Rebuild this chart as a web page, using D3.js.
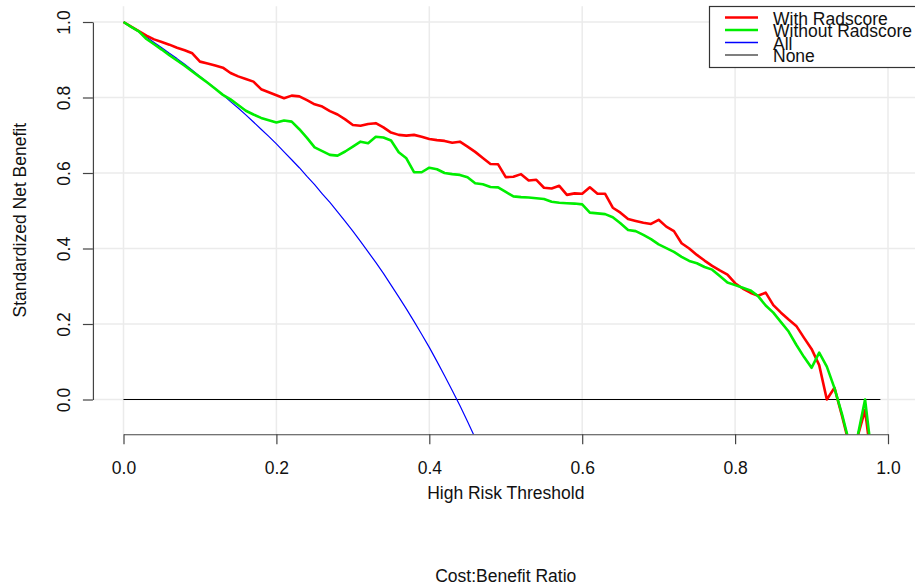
<!DOCTYPE html>
<html>
<head>
<meta charset="utf-8">
<script src="https://cdn.jsdelivr.net/npm/d3@7"></script>
<style>
  html, body { margin: 0; padding: 0; background: #fff; }
  svg { display: block; font-family: "Liberation Sans", Arial, Helvetica, sans-serif; }
</style>
</head>
<body>
<svg id="chart" width="915" height="585"></svg>
<script>
// Decision curve: standardized net benefit by high-risk threshold
const thresholds = [
  0.00,0.01,0.02,0.03,0.04,0.05,0.06,0.07,0.08,0.09,
  0.10,0.11,0.12,0.13,0.14,0.15,0.16,0.17,0.18,0.19,
  0.20,0.21,0.22,0.23,0.24,0.25,0.26,0.27,0.28,0.29,
  0.30,0.31,0.32,0.33,0.34,0.35,0.36,0.37,0.38,0.39,
  0.40,0.41,0.42,0.43,0.44,0.45,0.46,0.47,0.48,0.49,
  0.50,0.51,0.52,0.53,0.54,0.55,0.56,0.57,0.58,0.59,
  0.60,0.61,0.62,0.63,0.64,0.65,0.66,0.67,0.68,0.69,
  0.70,0.71,0.72,0.73,0.74,0.75,0.76,0.77,0.78,0.79,
  0.80,0.81,0.82,0.83,0.84,0.85,0.86,0.87,0.88,0.89,
  0.90,0.91,0.92,0.93,0.94,0.95,0.96,0.97,0.98
];

const withRadscore = [
  1.000,0.988,0.976,0.964,0.954,0.947,0.940,0.932,0.925,0.917,
  0.895,0.890,0.885,0.879,0.865,0.856,0.849,0.842,0.822,0.814,
  0.806,0.798,0.805,0.803,0.793,0.782,0.776,0.764,0.755,0.742,
  0.727,0.725,0.730,0.732,0.721,0.707,0.701,0.699,0.701,0.696,
  0.690,0.687,0.685,0.680,0.683,0.670,0.656,0.640,0.624,0.623,
  0.589,0.590,0.597,0.580,0.582,0.561,0.559,0.566,0.542,0.546,
  0.545,0.562,0.545,0.545,0.508,0.495,0.478,0.473,0.468,0.465,
  0.476,0.458,0.446,0.414,0.400,0.383,0.368,0.354,0.342,0.331,
  0.308,0.294,0.283,0.275,0.283,0.250,0.230,0.212,0.195,0.164,
  0.134,0.091,0.000,0.031,-0.045,-0.125,-0.100,-0.028,-0.190
];

const withoutRadscore = [
  1.000,0.987,0.975,0.955,0.941,0.927,0.912,0.898,0.884,0.869,
  0.854,0.839,0.823,0.807,0.795,0.780,0.765,0.755,0.746,0.740,
  0.734,0.739,0.736,0.716,0.693,0.668,0.658,0.648,0.646,0.657,
  0.670,0.683,0.679,0.696,0.694,0.686,0.655,0.639,0.602,0.602,
  0.614,0.610,0.600,0.597,0.595,0.589,0.573,0.570,0.563,0.562,
  0.550,0.538,0.536,0.535,0.533,0.531,0.524,0.521,0.520,0.519,
  0.517,0.495,0.493,0.491,0.483,0.467,0.449,0.446,0.436,0.425,
  0.411,0.401,0.391,0.378,0.367,0.361,0.351,0.344,0.327,0.310,
  0.303,0.296,0.289,0.274,0.249,0.230,0.205,0.180,0.145,0.113,
  0.084,0.124,0.087,0.030,-0.040,-0.120,-0.100,0.000,-0.170
];

// Treat-all strategy (first 48 thresholds)
const treatAll = [
  1.000,0.987,0.974,0.960,0.946,0.932,0.917,0.903,0.888,0.872,
  0.856,0.840,0.824,0.807,0.789,0.772,0.754,0.735,0.716,0.697,
  0.677,0.656,0.635,0.614,0.591,0.569,0.545,0.522,0.497,0.472,
  0.446,0.419,0.391,0.363,0.334,0.303,0.272,0.240,0.207,0.173,
  0.138,0.101,0.063,0.024,-0.016,-0.058,-0.102,-0.147
];

// Treat-none strategy
const noneThresholds = [0, 0.99];
const treatNone = [0, 0];

const xTicks = [0, 0.2, 0.4, 0.6, 0.8, 1.0];
const yTicks = [0, 0.2, 0.4, 0.6, 0.8, 1.0];

const series = [
  { name: "With Radscore",    color: "#ff0000", width: 2.6, x: thresholds, y: withRadscore },
  { name: "Without Radscore", color: "#00ee00", width: 2.6, x: thresholds, y: withoutRadscore },
  { name: "All",              color: "#0000ff", width: 1.2, x: thresholds.slice(0, treatAll.length), y: treatAll },
  { name: "None",             color: "#000000", width: 1.2, x: noneThresholds, y: treatNone }
];

const svg = d3.select("#chart");

const x = d3.scaleLinear().domain([0, 1]).range([123.5, 888]);
const y = d3.scaleLinear().domain([0, 1]).range([399.5, 22]);

// plot region (axis limits padded by 4%)
const plotLeft = x(-0.04), plotRight = x(1.04);
const plotTop = y(1.042), plotBottom = y(-0.092);

svg.append("rect").attr("width", 915).attr("height", 585).attr("fill", "#fff");

svg.append("defs").append("clipPath").attr("id", "plotClip")
  .append("rect")
  .attr("x", plotLeft).attr("y", plotTop)
  .attr("width", plotRight - plotLeft).attr("height", plotBottom - plotTop);

// grid
const grid = svg.append("g").attr("stroke", "#ebebeb").attr("stroke-width", 1.5);
grid.selectAll("line.v").data(xTicks).join("line")
  .attr("class", "v")
  .attr("x1", d => x(d)).attr("x2", d => x(d))
  .attr("y1", plotTop).attr("y2", plotBottom);
grid.selectAll("line.h").data(yTicks).join("line")
  .attr("class", "h")
  .attr("x1", plotLeft).attr("x2", plotRight)
  .attr("y1", d => y(d)).attr("y2", d => y(d));

// curves
const line = d3.line().x(d => x(d[0])).y(d => y(d[1]));
const drawOrder = [3, 2, 0, 1];
const curves = svg.append("g").attr("clip-path", "url(#plotClip)");
drawOrder.forEach(i => {
  const s = series[i];
  curves.append("path")
    .datum(s.x.map((t, k) => [t, s.y[k]]))
    .attr("fill", "none")
    .attr("stroke", s.color)
    .attr("stroke-width", s.width)
    .attr("stroke-linejoin", "round")
    .attr("d", line);
});

// axes
const fmt = d3.format(".1f");
const xAxis = svg.append("g")
  .attr("transform", `translate(0,${plotBottom})`)
  .call(d3.axisBottom(x).tickValues(xTicks).tickFormat(fmt).tickSizeInner(10).tickSizeOuter(0).tickPadding(4));
xAxis.select(".domain").attr("stroke", "#444").attr("stroke-width", 1.2);
xAxis.selectAll(".tick line").attr("stroke", "#444").attr("stroke-width", 1.2);
xAxis.selectAll(".tick text")
  .attr("y", null).attr("dy", null)
  .attr("transform", `translate(0,${474 - plotBottom})`)
  .attr("fill", "#111").attr("font-size", "17.5px");

const yAxis = svg.append("g")
  .attr("transform", `translate(${plotLeft},0)`)
  .call(d3.axisLeft(y).tickValues(yTicks).tickFormat(fmt).tickSizeInner(10).tickSizeOuter(0));
yAxis.select(".domain").attr("stroke", "#444").attr("stroke-width", 1.2);
yAxis.selectAll(".tick line").attr("stroke", "#444").attr("stroke-width", 1.2);
yAxis.selectAll(".tick text")
  .attr("x", null).attr("dy", null)
  .attr("text-anchor", "middle")
  .attr("transform", `translate(${70 - plotLeft},0) rotate(-90)`)
  .attr("fill", "#111").attr("font-size", "17.5px");

// axis titles
svg.append("text")
  .attr("x", (plotLeft + plotRight) / 2).attr("y", 499)
  .attr("text-anchor", "middle").attr("font-size", "17.5px").attr("fill", "#111")
  .text("High Risk Threshold");

svg.append("text")
  .attr("x", (plotLeft + plotRight) / 2).attr("y", 582)
  .attr("text-anchor", "middle").attr("font-size", "17.5px").attr("fill", "#111")
  .text("Cost:Benefit Ratio");

svg.append("text")
  .attr("transform", `translate(26,${(plotTop + plotBottom) / 2}) rotate(-90)`)
  .attr("text-anchor", "middle").attr("font-size", "17.5px").attr("fill", "#111")
  .text("Standardized Net Benefit");

// legend
const legend = svg.append("g");
legend.append("rect")
  .attr("x", 709.5).attr("y", 6.5)
  .attr("width", plotRight - 709.5).attr("height", 61)
  .attr("fill", "#fff").attr("stroke", "#333").attr("stroke-width", 1.2);
const legendY = [17.5, 30, 42.5, 55];
const legendW = [2.6, 2.6, 1.6, 1.2];
series.forEach((s, i) => {
  legend.append("line")
    .attr("x1", 725).attr("x2", 758)
    .attr("y1", legendY[i]).attr("y2", legendY[i])
    .attr("stroke", s.color).attr("stroke-width", legendW[i]);
  legend.append("text")
    .attr("x", 773).attr("y", legendY[i] + 7)
    .attr("font-size", "17.5px").attr("fill", "#111")
    .text(s.name);
});
</script>
</body>
</html>
